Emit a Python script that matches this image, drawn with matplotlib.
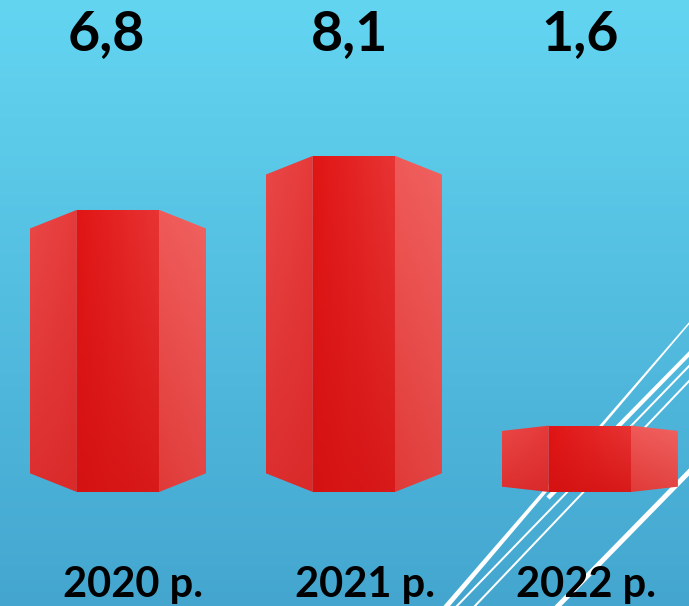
import numpy as np
import matplotlib
matplotlib.use('Agg')
import matplotlib.pyplot as plt
from matplotlib.patches import Polygon
from matplotlib.transforms import blended_transform_factory
from matplotlib.colors import to_rgb

years = ['2020 р.', '2021 р.', '2022 р.']
values = [6.8, 8.1, 1.6]
value_labels = ['6,8', '8,1', '1,6']

W, WI = 0.373, 0.174      # outer / inner half width of the hexagonal prism

fig = plt.figure(figsize=(6.89, 6.06), dpi=100)

# background with gradient and the white diagonal strokes (pixel coords)
bg = fig.add_axes([0, 0, 1, 1], zorder=0)
bg.set_axis_off()
top_c = np.array(to_rgb('#63d5f1'))
bot_c = np.array(to_rgb('#44a6cf'))
t = np.linspace(0, 1, 256)[:, None, None]
grad = top_c * (1 - t) + bot_c * t
grad = np.repeat(grad, 4, axis=1)
bg.imshow(grad, extent=[0, 689, 606, 0], aspect='auto')


def stroke(p0, p1, w0, w1):
    p0, p1 = np.array(p0, float), np.array(p1, float)
    d = p1 - p0
    n = np.array([-d[1], d[0]]) / np.hypot(*d)
    pts = [p0 + n * w0 / 2, p1 + n * w1 / 2, p1 - n * w1 / 2, p0 - n * w0 / 2]
    bg.add_patch(Polygon(pts, closed=True, facecolor='white', edgecolor='none'))


stroke((445, 608), (691, 321), 5, 1.5)
stroke((455, 608), (691, 364), 2, 2)
stroke((473, 608), (691, 379), 2, 2)
stroke((548, 498), (691, 352), 4.5, 4)
stroke((556, 608), (691, 470), 5, 5)
bg.set_xlim(0, 689)
bg.set_ylim(606, 0)

# data axes
ax = fig.add_axes([0, 0, 1, 1], zorder=2)
ax.patch.set_alpha(0)
ax.set_axis_off()

face_cols = [
    ('#ea4848', '#e63a3a', '#dc2e2e', '#da2a2a'),   # left face
    ('#e11515', '#e83434', '#d51212', '#d81a1a'),   # front face
    ('#ef5a58', '#f06260', '#e03a38', '#e24442'),   # right face
]


def shaded_face(pts, cols):
    poly = Polygon(pts, closed=True, facecolor='none', edgecolor='none')
    ax.add_patch(poly)
    tl, tr, bl, br = [np.array(to_rgb(c)) for c in cols]
    yy = np.linspace(0, 1, 64)[:, None, None]
    xx = np.linspace(0, 1, 32)[None, :, None]
    img = (tl * (1 - xx) + tr * xx) * (1 - yy) + (bl * (1 - xx) + br * xx) * yy
    xs = [p[0] for p in pts]
    ys = [p[1] for p in pts]
    im = ax.imshow(img, extent=[min(xs), max(xs), min(ys), max(ys)],
                   aspect='auto', origin='upper', interpolation='bilinear')
    im.set_clip_path(poly)


for i, v in enumerate(values):
    d = min(0.45, 0.08 * v)
    x0, x1, x2, x3 = i - W, i - WI, i + WI, i + W
    shaded_face([(x0, d), (x1, 0), (x1, v), (x0, v - d)], face_cols[0])
    shaded_face([(x1, 0), (x2, 0), (x2, v), (x1, v)], face_cols[1])
    shaded_face([(x2, 0), (x3, d), (x3, v - d), (x2, v)], face_cols[2])

trans = blended_transform_factory(ax.transData, ax.transAxes)
fam = ['Lato', 'DejaVu Sans']
top_nudge = [-0.05, -0.02, -0.04]
bottom_nudge = [0.065, 0.045, -0.015]
for i, lab in enumerate(value_labels):
    ax.text(i + top_nudge[i], 0.918, lab, transform=trans, ha='center', va='baseline',
            fontsize=40, fontweight='bold', family=fam, color='black')
for i, yr in enumerate(years):
    ax.text(i + bottom_nudge[i], 0.015, yr, transform=trans, ha='center', va='baseline',
            fontsize=30, fontweight='bold', family=fam, color='black', zorder=5)

ax.set_xlim(-0.5, 2.42)
ax.set_ylim(-(606 - 492) / 41.5, 492 / 41.5)

fig.savefig('out.png', dpi=100)
